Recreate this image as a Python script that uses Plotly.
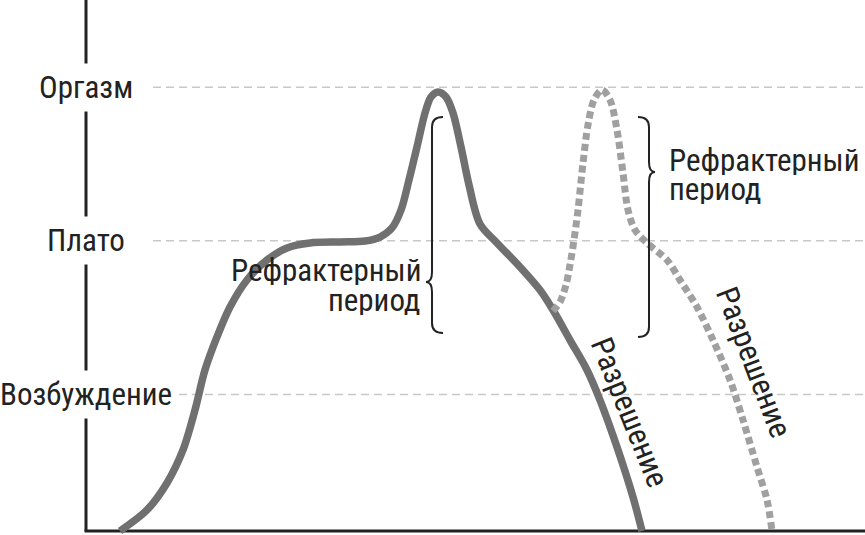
import plotly.graph_objects as go

# ---- data (time in arbitrary units, arousal in "level" units) ----
level_names = ["Возбуждение", "Плато", "Оргазм"]
level_values = [0.89, 1.89, 2.89]

solid_x = [34, 61, 81, 97, 109, 119, 131, 144, 161, 181, 201, 224, 254, 279, 294, 306, 315, 323, 331,
           339, 345, 352, 360, 367, 375, 383, 394, 411, 434, 454, 467, 484, 501, 514, 531, 547, 556]
solid_y = [0.0, 0.137, 0.313, 0.528, 0.788, 1.049, 1.264, 1.459, 1.635, 1.765, 1.844, 1.876, 1.883,
           1.889, 1.915, 1.974, 2.091, 2.287, 2.502, 2.723, 2.827, 2.860, 2.827, 2.723, 2.502, 2.254,
           2.000, 1.876, 1.720, 1.570, 1.440, 1.244, 1.049, 0.853, 0.547, 0.221, 0.0]

dash_x = [467, 474, 480, 484, 488, 492, 497, 502, 508, 516, 524, 531, 537, 542, 549, 561, 581, 594,
          611, 627, 644, 657, 671, 681, 686]
dash_y = [1.433, 1.492, 1.603, 1.733, 1.896, 2.091, 2.397, 2.645, 2.808, 2.873, 2.808, 2.612, 2.332,
          2.091, 1.961, 1.876, 1.765, 1.635, 1.459, 1.244, 0.984, 0.723, 0.417, 0.202, 0.0]

refractory_label = ["Рефрактерный", "период"]
resolution_label = "Разрешение"

FONT = "Liberation Sans Narrow, Roboto Condensed, DejaVu Sans Condensed, Arial Narrow, sans-serif"
INK = "#222222"
FS = 31

X_RANGE = [-86, 779]
Y_RANGE = [-0.026, 3.459]

fig = go.Figure()
fig.add_trace(go.Scatter(x=solid_x, y=solid_y, mode="lines",
                         line=dict(color="#707070", width=7.5, shape="spline", smoothing=0.9),
                         hoverinfo="skip"))
fig.add_trace(go.Scatter(x=dash_x, y=dash_y, mode="lines",
                         line=dict(color="#a0a0a0", width=7, shape="spline", smoothing=0.9, dash="7px,4px"),
                         hoverinfo="skip"))

shapes = []
# gridlines
for v in level_values:
    shapes.append(dict(type="line", xref="x", yref="y", x0=67, x1=X_RANGE[1], y0=v, y1=v,
                       line=dict(color="#c8c8c8", width=1.5, dash="8px,5px"), layer="below"))
# axes
shapes.append(dict(type="line", xref="x", yref="y", x0=0, x1=0, y0=0, y1=Y_RANGE[1],
                   line=dict(color=INK, width=3), layer="below"))
shapes.append(dict(type="line", xref="x", yref="y", x0=-1.5, x1=X_RANGE[1], y0=0, y1=0,
                   line=dict(color=INK, width=3), layer="below"))


def brace(x, top, bottom, tip, direction, arm=11, tipw=6, r=0.065):
    # direction -1: tip points left, hooks to the right; +1: tip points right
    hx = x - direction * arm
    tx = x + direction * tipw
    p = (f"M {hx},{top} Q {x},{top} {x},{top - r} "
         f"L {x},{tip + r} Q {x},{tip} {tx},{tip} Q {x},{tip} {x},{tip - r} "
         f"L {x},{bottom + r} Q {x},{bottom} {hx},{bottom}")
    return dict(type="path", xref="x", yref="y", path=p, line=dict(color=INK, width=2))


shapes.append(brace(346, 2.697, 1.290, 1.622, -1))
shapes.append(brace(563, 2.697, 1.264, 2.339, +1))

annotations = []
for name, v in zip(level_names, level_values):
    annotations.append(dict(x=0, y=v, xref="x", yref="y", text=name, showarrow=False,
                            xanchor="center", yanchor="middle", bgcolor="white", borderpad=5,
                            font=dict(family=FONT, size=FS, color=INK)))

LINE_H = 30  # explicit text-box height so the two lines sit close like the reference


def ref_text(x, y, text, anchor):
    return dict(x=x, y=y, xref="x", yref="y", text=text, showarrow=False, height=LINE_H,
                borderpad=0, xanchor=anchor, yanchor="middle", valign="middle",
                font=dict(family=FONT, size=FS, color=INK))


# left refractory text (right aligned)
annotations.append(ref_text(336, 1.70, refractory_label[0], "right"))
annotations.append(ref_text(336, 1.505, refractory_label[1], "right"))
# right refractory text (left aligned)
annotations.append(ref_text(582, 2.42, refractory_label[0], "left"))
annotations.append(ref_text(582, 2.225, refractory_label[1], "left"))
# resolution labels
annotations.append(dict(x=544, y=0.775, xref="x", yref="y", text=resolution_label, showarrow=False,
                        textangle=68, xanchor="center", yanchor="middle",
                        font=dict(family=FONT, size=FS, color=INK)))
annotations.append(dict(x=668, y=1.10, xref="x", yref="y", text=resolution_label, showarrow=False,
                        textangle=69, xanchor="center", yanchor="middle",
                        font=dict(family=FONT, size=FS, color=INK)))

fig.update_layout(
    width=865, height=535,
    margin=dict(l=0, r=0, t=0, b=0),
    paper_bgcolor="white", plot_bgcolor="white",
    showlegend=False,
    xaxis=dict(range=X_RANGE, visible=False, fixedrange=True),
    yaxis=dict(range=Y_RANGE, visible=False, fixedrange=True),
    shapes=shapes, annotations=annotations,
)

fig.write_html("out.html", config={"displayModeBar": False},
               post_script="document.body.style.margin='0px';")
